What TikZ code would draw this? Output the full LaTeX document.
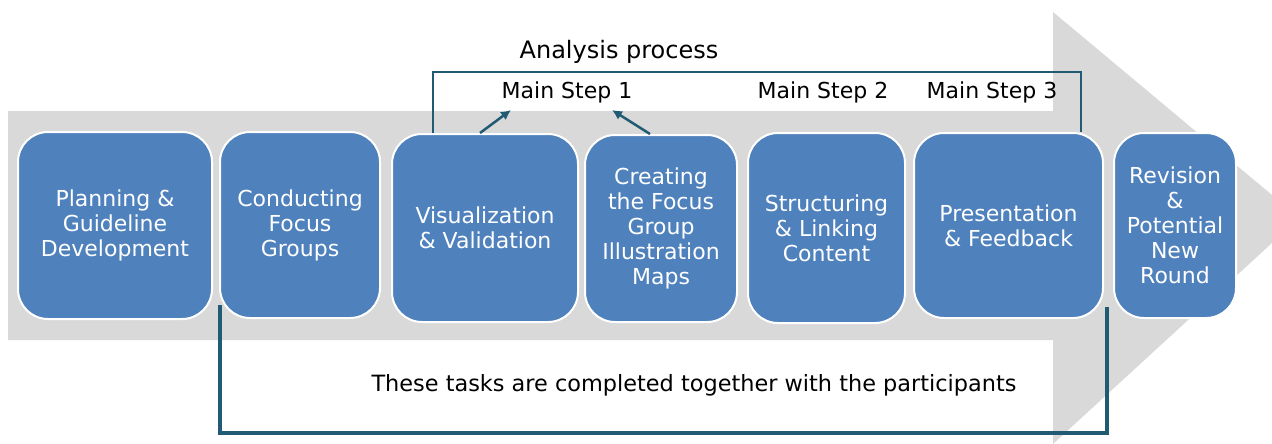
\documentclass[tikz,border=0pt]{standalone}
\usepackage{fontspec}
\setmainfont{DejaVu Sans}
\usetikzlibrary{arrows.meta}
\definecolor{stepblue}{HTML}{4F81BD}
\definecolor{flowgray}{HTML}{D9D9D9}
\definecolor{linkteal}{HTML}{215B73}
\begin{document}
\begin{tikzpicture}[x=1pt,y=-1pt,
  stepbox/.style={draw=white, line width=2pt, fill=stepblue, rounded corners=30pt,
    text=white, align=center, inner sep=0pt, font=\fontsize{22}{25}\selectfont},
  caption/.style={inner sep=0pt, font=\fontsize{22}{25}\selectfont},
  topline/.style={draw=linkteal, line width=2pt},
  pointer/.style={draw=linkteal, line width=2.5pt, -{Latex[length=10pt,width=10pt]}},
  baseline/.style={draw=linkteal, line width=4pt}]
\useasboundingbox (0,0) rectangle (1272,444);
% big process arrow in the background, its tip running off the right edge
\fill[flowgray] (8,111) -- (1053,111) -- (1053,12) -- (1272,195) -- (1272,243)
  -- (1053,444) -- (1053,340) -- (8,340) -- cycle;

% bracket for the tasks done with participants (under the boxes)
\coordinate (bl) at (220,433);
\coordinate (br) at (1107,433);
\coordinate (bls) at (220,305);
\coordinate (brs) at (1107,307);
\draw[baseline] (bls) -- (bl) -- (br) -- (brs);

% process steps
\node[stepbox, minimum width=194pt, minimum height=187pt] (plan) at (115,225.5)
  {Planning \&\\Guideline\\Development};
\node[stepbox, minimum width=160pt, minimum height=186pt] (conduct) at (300,225)
  {Conducting\\Focus\\Groups};
\node[stepbox, minimum width=186pt, minimum height=188pt] (vis) at (485,228)
  {Visualization\\\& Validation};
\node[stepbox, minimum width=152pt, minimum height=187pt] (create) at (661,228.5)
  {Creating\\the Focus\\Group\\Illustration\\Maps};
\node[stepbox, minimum width=157pt, minimum height=190pt] (struct) at (826.5,228)
  {Structuring\\\& Linking\\Content};
\node[stepbox, minimum width=189pt, minimum height=185pt] (pres) at (1008.5,225.5)
  {Presentation\\\& Feedback};
\node[stepbox, minimum width=122pt, minimum height=185pt] (rev) at (1175,225.5)
  {Revision\\\&\\Potential\\New\\Round};

% labels
\node[caption, font=\fontsize{24}{28}\selectfont] (analysis) at (619,52) {Analysis process};
\node[caption] (ms1) at (567,92) {Main Step 1};
\node[caption] (ms2) at (823,92) {Main Step 2};
\node[caption] (ms3) at (992,92) {Main Step 3};
\node[caption, font=\fontsize{22.4}{26}\selectfont] (together) at (694,385)
  {These tasks are completed together with the participants};

% analysis bracket
\coordinate (tl) at (433,72);
\coordinate (tr) at (1081,72);
\draw[topline] (vis.north -| tl) -- (tl) -- (tr) -- (pres.north -| tr);

% pointers to main step 1
\coordinate (pa) at (480,0);
\coordinate (pb) at (650,0);
\coordinate (ha) at (511,110);
\coordinate (hb) at (612,110);
\draw[pointer] (vis.north -| pa) -- (ha);
\draw[pointer] (create.north -| pb) -- (hb);
\end{tikzpicture}
\end{document}
